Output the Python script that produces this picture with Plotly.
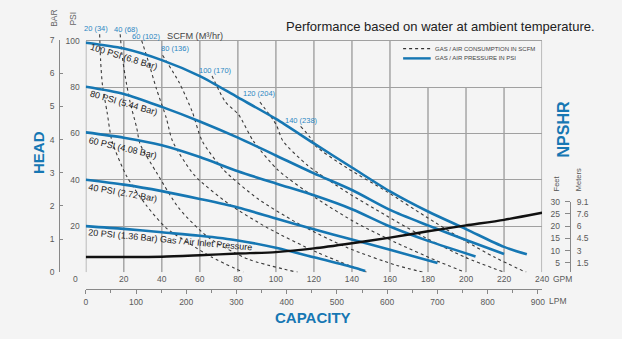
import plotly.graph_objects as go

W, H = 622, 339
BLUE = '#1677b3'
GRID = '#a0a0a0'
TICK = '#5a5a5a'
FONT = 'Liberation Sans, Arial, sans-serif'

# ---------------- data ----------------
GPM_TICKS = [20, 40, 60, 80, 100, 120, 140, 160, 180, 200, 220, 240]
LPM_TICKS = [0, 100, 200, 300, 400, 500, 600, 700, 800, 900]
PSI_TICKS = [0, 20, 40, 60, 80, 100]
PSI_LABELS = ['', '20', '40', '60', '80', '100']
BAR_TICKS = [0, 1, 2, 3, 4, 5, 6, 7]
FEET_TICKS = [5, 10, 15, 20, 25, 30]
METER_LABELS = ['1.5', '3', '4.5', '6', '7.6', '9.1']
GRID_GPM = [0, 20, 40, 60, 80, 100, 120, 140, 160, 180, 200, 220, 240]
GRID_TOP = [100, 100, 100, 100, 100, 100, 100, 100, 100, 80, 80, 80, 100]

# air inlet pressure curves (GPM, PSI)
P100_GPM = [0, 20, 40, 60, 80, 100, 120, 140, 160, 180, 200, 220, 232]
P100_PSI = [99.2, 96.7, 91.7, 84.8, 75.6, 66.3, 55.7, 45.3, 35.0, 26.3, 18.7, 11.0, 7.8]
P80_GPM = [0, 20, 40, 60, 80, 100, 120, 140, 160, 180, 200, 220]
P80_PSI = [80.2, 77.1, 71.5, 65.2, 58.2, 50.5, 42.8, 35.6, 27.0, 20.3, 14.0, 7.9]
P60_GPM = [0, 20, 40, 60, 80, 100, 120, 140, 160, 180, 205]
P60_PSI = [60.5, 58.2, 54.9, 49.8, 43.7, 38.4, 33.3, 27.3, 19.8, 13.6, 6.9]
P40_GPM = [0, 20, 40, 60, 80, 100, 120, 140, 160, 185]
P40_PSI = [40.0, 37.9, 35.1, 31.7, 28.0, 23.3, 18.6, 14.2, 9.8, 4.0]
P20_GPM = [0, 20, 40, 60, 80, 100, 120, 140, 147]
P20_PSI = [20.0, 18.8, 17.3, 15.8, 13.8, 10.6, 6.5, 2.3, 0.6]

# air consumption curves (GPM, PSI)
C20_GPM = [7.3, 7.8, 8.8, 11.2, 13.8, 21.6, 32.0, 42.4, 57.9, 66.4, 82.9]
C20_PSI = [102.9, 91.6, 80.7, 69.3, 56.7, 41.4, 28.8, 19.1, 10.7, 6.5, 0]
C40_GPM = [18.1, 19.0, 20.7, 23.3, 26.8, 28.5, 37.3, 49.2, 64.8, 85.5, 111.5]
C40_PSI = [102.9, 94.5, 84.9, 73.6, 62.4, 55.6, 43.0, 27.5, 14.9, 5.7, 0]
C60_GPM = [29.4, 32.7, 37.2, 42.4, 45.6, 57.0, 75.2, 95.9, 121.8, 147.7]
C60_PSI = [100.1, 91.7, 79.2, 66.6, 56.8, 42.1, 29.6, 19.1, 8.6, 0]
C80_GPM = [40.4, 49.2, 56.0, 61.2, 72.6, 90.7, 111.5, 137.4, 163.3, 177.8]
C80_PSI = [93.8, 81.9, 69.4, 56.8, 44.2, 31.7, 21.2, 10.7, 3.1, 0]
C100_GPM = [66.4, 73.5, 80.4, 88.1, 101.1, 121.8, 142.6, 163.3, 184.0, 199.6]
C100_PSI = [84.9, 73.6, 68.1, 56.8, 44.2, 31.7, 21.2, 12.8, 5.2, 0]
C120_GPM = [91.6, 100.1, 103.7, 116.6, 137.4, 158.1, 178.8, 199.6, 220.3]
C120_PSI = [73.6, 63.9, 56.8, 46.3, 34.6, 24.5, 14.9, 6.5, 0]
C140_GPM = [113.0, 118.2, 120.8, 137.4, 158.1, 178.8, 199.6, 215.1, 231.7]
C140_PSI = [63.1, 58.1, 54.7, 45.1, 35.0, 24.1, 13.6, 6.5, 0]

# NPSHR (GPM, feet)
NPSHR_GPM = [0, 40, 60, 80, 100, 120, 140, 160, 180, 200, 220, 240]
NPSHR_FT = [7.4, 7.5, 8.1, 8.8, 9.4, 10.9, 13.0, 15.3, 17.9, 20.3, 22.6, 25.5]

PRESSURE_NAMES = ['100 PSI (6.8 Bar)', '80 PSI (5.44 Bar)', '60 PSI (4.08 Bar)',
                  '40 PSI (2.72 Bar)', '20 PSI (1.36 Bar) Gas / Air Inlet Pressure']
SCFM_LABELS = ['20 (34)', '40 (68)', '60 (102)', '80 (136)', '100 (170)', '120 (204)', '140 (238)']


def px(x):
    return x / W


def py(y):
    return 1 - y / H


fig = go.Figure()

for g, p in [(C20_GPM, C20_PSI), (C40_GPM, C40_PSI), (C60_GPM, C60_PSI), (C80_GPM, C80_PSI),
             (C100_GPM, C100_PSI), (C120_GPM, C120_PSI), (C140_GPM, C140_PSI)]:
    fig.add_trace(go.Scatter(x=g, y=p, mode='lines', showlegend=False, hoverinfo='skip',
                             line=dict(color='#3a3a3a', width=1.1, dash='3px,3px',
                                       shape='spline', smoothing=0.7)))

for g, p in [(P100_GPM, P100_PSI), (P80_GPM, P80_PSI), (P60_GPM, P60_PSI),
             (P40_GPM, P40_PSI), (P20_GPM, P20_PSI)]:
    fig.add_trace(go.Scatter(x=g, y=p, mode='lines', showlegend=False, hoverinfo='skip',
                             line=dict(color=BLUE, width=2.6, shape='spline', smoothing=0.8)))

fig.add_trace(go.Scatter(x=NPSHR_GPM, y=NPSHR_FT, yaxis='y3', mode='lines', showlegend=False,
                         hoverinfo='skip',
                         line=dict(color='#111111', width=2.4, shape='spline', smoothing=0.7)))
# anchor traces for auxiliary axes
fig.add_trace(go.Scatter(x=[None], y=[None], yaxis='y2', showlegend=False, hoverinfo='skip'))
fig.add_trace(go.Scatter(x=[None], y=[None], yaxis='y4', showlegend=False, hoverinfo='skip'))
fig.add_trace(go.Scatter(x=[None], y=[None], xaxis='x2', showlegend=False, hoverinfo='skip'))

# vertical grid lines (legend box area left open)
shapes = []
for gx, top in zip(GRID_GPM, GRID_TOP):
    shapes.append(dict(type='line', xref='x', yref='y', x0=gx, x1=gx, y0=0, y1=top,
                       line=dict(color=GRID, width=1.4), layer='below'))
# legend samples
shapes.append(dict(type='line', xref='paper', yref='paper', x0=px(407), x1=px(435),
                   y0=py(45), y1=py(45), line=dict(color='#333', width=1.1, dash='3px,3px')))
shapes.append(dict(type='line', xref='paper', yref='paper', x0=px(407), x1=px(435),
                   y0=py(55), y1=py(55), line=dict(color=BLUE, width=2.4)))

ann = []


def text(x, y, s, size=9, color=TICK, angle=0, bold=False, xanchor='center'):
    ann.append(dict(x=px(x), y=py(y), xref='paper', yref='paper', text=('<b>%s</b>' % s) if bold else s,
                    showarrow=False, textangle=angle, xanchor=xanchor, yanchor='middle',
                    font=dict(family=FONT, size=size, color=color)))


text(445, 22, 'Performance based on water at ambient temperature.', 13, '#222')
text(196, 32, 'SCFM (M³/hr)', 9.2, '#444')
for (x, y), s in zip([(95, 24), (126, 25), (146.5, 32), (175.5, 45), (217, 68), (261, 91), (304, 119)],
                     SCFM_LABELS):
    text(x, y, s, 7.5, '#2a86c2')
for (x, y, a), s in zip([(124, 54, 17), (124, 101, 16), (123, 147, 13), (123, 194, 10), (171, 242, 5.3)],
                        PRESSURE_NAMES):
    text(x, y, s, 9, '#222', a)
text(37, 152, 'HEAD', 15, BLUE, -90, True)
text(570, 128.5, 'NPSHR', 16, BLUE, -90, True)
text(316, 322, 'CAPACITY', 15, BLUE, 0, True)
text(52, 14, 'BAR', 8.5, '#666', -90)
text(72, 14, 'PSI', 8.5, '#666', -90)
text(563, 184, 'Feet', 7.5, '#555', -90)
text(585, 180, 'Meters', 7.5, '#555', -90)
text(75, 282, '0', 8.5, TICK)
text(557, 282, 'GPM', 8.5, TICK, xanchor='left')
text(553, 305, 'LPM', 8.5, TICK, xanchor='left')
text(437, 45, 'GAS / AIR CONSUMPTION IN SCFM', 6, '#444', xanchor='left')
text(437, 55, 'GAS / AIR PRESSURE IN PSI', 6, '#444', xanchor='left')

tickfont = dict(family=FONT, size=8.5, color=TICK)
ydom = [py(275.5), py(275.5 - 104 * 2.385)]

fig.update_layout(
    width=W, height=H, margin=dict(l=0, r=0, t=0, b=0),
    paper_bgcolor='#f4f4f4', plot_bgcolor='rgba(0,0,0,0)',
    showlegend=False, shapes=shapes, annotations=ann,
    xaxis=dict(domain=[px(85), px(548)], range=[0, 240], tickvals=GPM_TICKS, showgrid=False,
               zeroline=False, showline=False, ticks='', tickfont=tickfont, anchor='y'),
    xaxis2=dict(overlaying='x', anchor='free', position=py(293), side='bottom',
                range=[0, 240 * 3.785411784], tickvals=LPM_TICKS, showgrid=False, zeroline=False,
                showline=True, linecolor='#888', linewidth=1, ticks='outside', ticklen=4,
                tickcolor='#888', tickfont=tickfont,
                minor=dict(dtick=50, ticks='outside', ticklen=2.5, tickcolor='#888')),
    yaxis=dict(domain=ydom, range=[0, 104], tickvals=PSI_TICKS, ticktext=PSI_LABELS, showgrid=True,
               gridcolor=GRID, gridwidth=1.4, zeroline=False, showline=False, ticks='',
               tickfont=tickfont, ticklabelstandoff=5, anchor='x'),
    yaxis2=dict(domain=[py(275.5), py(36)], range=[0, 7], tickvals=BAR_TICKS, anchor='free',
                position=px(58), side='left', showgrid=False, zeroline=False, showline=True,
                linecolor='#888', ticks='inside', ticklen=3, tickcolor='#888', tickfont=tickfont,
                ticklabelstandoff=3),
    yaxis3=dict(domain=[py(275.5), py(202.7)], range=[1.1, 30], tickvals=FEET_TICKS, anchor='free',
                position=px(576), side='left', showgrid=False, zeroline=False, showline=True,
                linecolor='#888', ticks='outside', ticklen=5, tickcolor='#888', tickfont=tickfont,
                ticklabelstandoff=3),
    yaxis4=dict(overlaying='y3', range=[1.1, 30], tickvals=FEET_TICKS, ticktext=METER_LABELS,
                anchor='free', position=px(576), side='right', showgrid=False, zeroline=False,
                showline=False, ticks='', tickfont=tickfont, ticklabelstandoff=6),
)

fig.write_html('out.html', config={'displayModeBar': False},
               post_script="document.body.style.margin='0';")
